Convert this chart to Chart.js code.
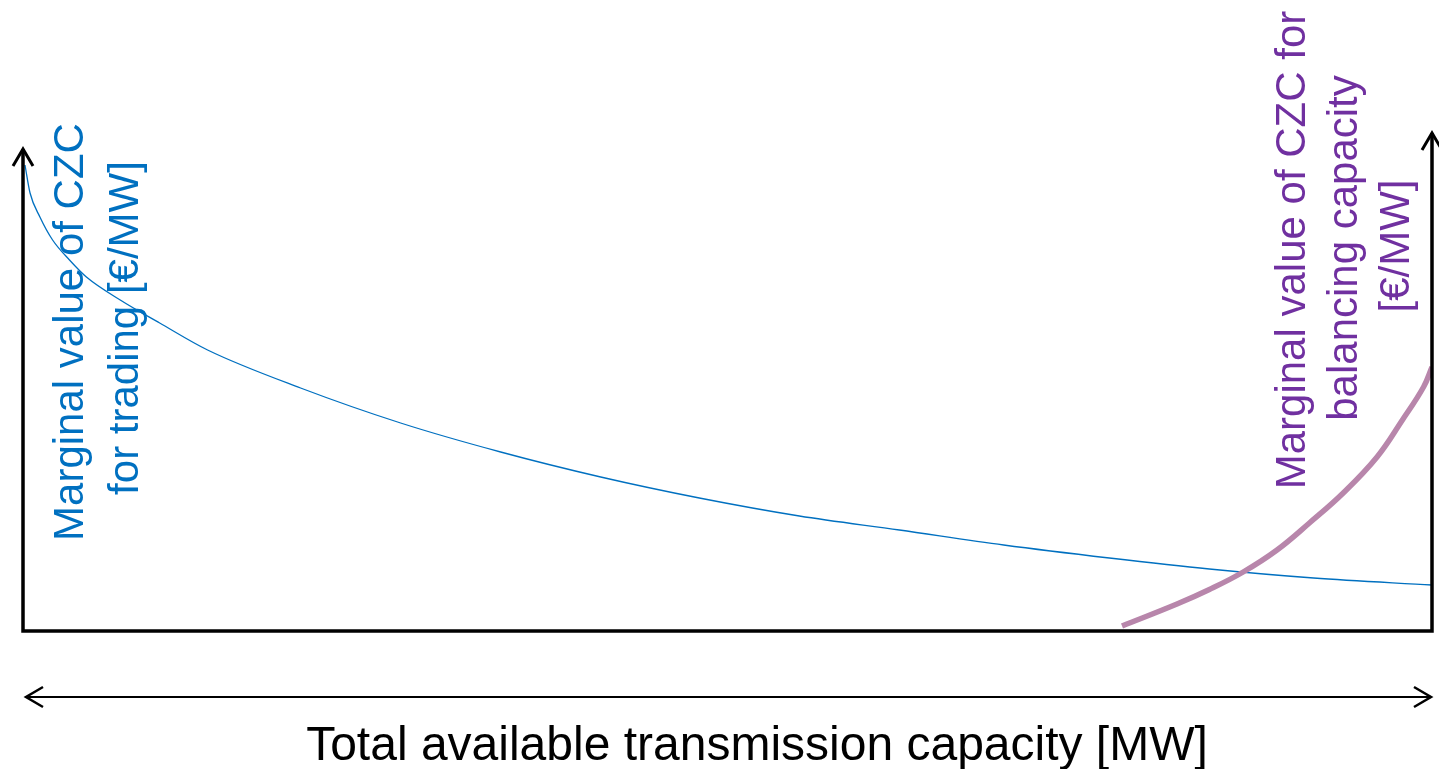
<!DOCTYPE html>
<html>
<head>
<meta charset="utf-8">
<script src="https://cdn.jsdelivr.net/npm/chart.js@4.4.1/dist/chart.umd.min.js"></script>
<style>
html,body{margin:0;padding:0;background:#fff;overflow:hidden;}
#wrap{width:1439px;height:769px;position:relative;}
</style>
</head>
<body>
<div id="wrap"><canvas id="c" width="1439" height="769"></canvas></div>
<script>
// Capacity axis positions (0-100 = share of total available capacity)
const tradingX = [0.14, 0.5, 1.2, 2.1, 3.3, 4.5, 6.9, 9.7, 13.1, 19.7, 26.8, 33.9, 41.0, 48.0, 55.1, 62.2, 69.6, 77.1, 84.2, 91.6, 100];
const tradingValue = [93.2, 87.6, 82.8, 78.2, 74.2, 70.8, 66.2, 61.6, 56.2, 48.6, 41.6, 35.8, 30.8, 26.6, 23.0, 20.2, 17.2, 14.6, 12.4, 10.6, 9.2];
const balancingX = [78.0, 81.9, 84.2, 86.6, 89.0, 91.3, 93.7, 96.1, 97.9, 99.4, 100];
const balancingValue = [1.0, 5.4, 8.3, 11.8, 16.2, 21.6, 27.6, 34.8, 42.2, 48.8, 52.8];

const xAxisTitle = "Total available transmission capacity [MW]";
const leftAxisTitle = ["Marginal value of CZC", "for trading [€/MW]"];
const rightAxisTitle = ["Marginal value of CZC for", "balancing capacity", "[€/MW]"];

const BLUE = "#0070C0";
const PURPLE_TEXT = "#7030A0";
const PURPLE_LINE = "#B886AB";

function toPts(xs, ys){ return xs.map((x,i)=>({x:x,y:ys[i]})); }

const decor = {
  id: 'decor',
  afterDraw(chart){
    const ctx = chart.ctx;
    const ca = chart.chartArea;
    ctx.save();
    ctx.strokeStyle = '#000';
    ctx.lineWidth = 3.5;
    ctx.lineCap = 'butt';
    ctx.lineJoin = 'miter';
    ctx.beginPath();
    ctx.moveTo(ca.left, 149);
    ctx.lineTo(ca.left, ca.bottom);
    ctx.lineTo(ca.right, ca.bottom);
    ctx.lineTo(ca.right, 133);
    ctx.stroke();
    function chevUp(x, y){
      ctx.beginPath();
      ctx.moveTo(x-10, y+17);
      ctx.lineTo(x, y);
      ctx.lineTo(x+10, y+17);
      ctx.stroke();
    }
    ctx.lineWidth = 3;
    chevUp(ca.left, 149);
    chevUp(ca.right, 133);
    const ay = 697;
    ctx.lineWidth = 2;
    ctx.beginPath();
    ctx.moveTo(ca.left + 2, ay);
    ctx.lineTo(ca.right - 1, ay);
    ctx.stroke();
    ctx.lineWidth = 2.5;
    ctx.beginPath();
    ctx.moveTo(ca.left + 20, ay - 10);
    ctx.lineTo(ca.left + 3, ay);
    ctx.lineTo(ca.left + 20, ay + 10);
    ctx.stroke();
    ctx.beginPath();
    ctx.moveTo(ca.right - 18, ay - 10);
    ctx.lineTo(ca.right - 1, ay);
    ctx.lineTo(ca.right - 18, ay + 10);
    ctx.stroke();
    // x title
    ctx.fillStyle = '#000';
    ctx.font = '48px "Liberation Sans", Arial, sans-serif';
    ctx.textAlign = 'center';
    ctx.textBaseline = 'alphabetic';
    ctx.fillText(xAxisTitle, 757, 760);
    // left rotated title
    ctx.font = '42px "Liberation Sans", Arial, sans-serif';
    ctx.fillStyle = BLUE;
    const lb = [83, 138];
    const lc = [332, 328];
    leftAxisTitle.forEach((t,i)=>{
      ctx.save();
      ctx.translate(lb[i], lc[i]);
      ctx.rotate(-Math.PI/2);
      ctx.fillText(t, 0, 0);
      ctx.restore();
    });
    ctx.fillStyle = PURPLE_TEXT;
    const rb = [1305, 1357, 1409];
    const rc = [250, 248, 246];
    rightAxisTitle.forEach((t,i)=>{
      ctx.save();
      ctx.translate(rb[i], rc[i]);
      ctx.rotate(-Math.PI/2);
      ctx.fillText(t, 0, 0);
      ctx.restore();
    });
    ctx.restore();
  }
};

new Chart(document.getElementById('c'), {
  type: 'line',
  data: {
    datasets: [
      {
        label: 'trading',
        data: toPts(tradingX, tradingValue),
        borderColor: BLUE,
        borderWidth: 1.3,
        pointRadius: 0,
        cubicInterpolationMode: 'monotone',
        fill: false,
        order: 1
      },
      {
        label: 'balancing',
        data: toPts(balancingX, balancingValue),
        borderColor: PURPLE_LINE,
        borderWidth: 5.5,
        pointRadius: 0,
        tension: 0.4,
        fill: false,
        order: 0
      }
    ]
  },
  options: {
    responsive: false,
    animation: false,
    devicePixelRatio: 1,
    layout: { padding: { left: 23, right: 7, top: 131, bottom: 138 } },
    plugins: { legend: { display: false }, tooltip: { enabled: false } },
    scales: {
      x: { type: 'linear', min: 0, max: 100, display: false },
      y: { type: 'linear', min: 0, max: 100, display: false }
    }
  },
  plugins: [decor]
});
</script>
</body>
</html>
